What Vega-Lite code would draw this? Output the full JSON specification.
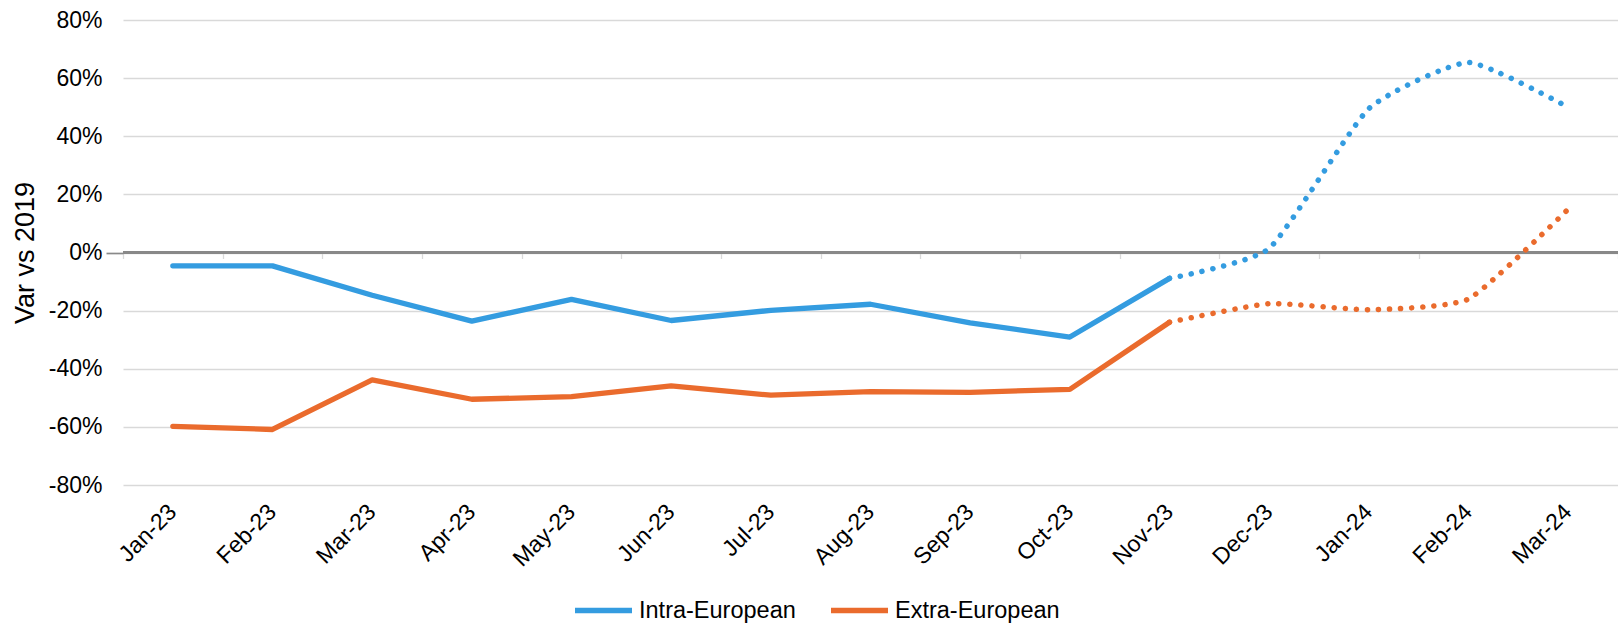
{
  "$schema": "https://vega.github.io/schema/vega-lite/v6.json",
  "width": 1495,
  "height": 465,
  "autosize": {"type": "none"},
  "padding": {"left": 123, "top": 20, "right": 0, "bottom": 139},
  "config": {
    "view": {"stroke": null},
    "font": "Liberation Sans",
    "axis": {"labelColor": "#000000", "titleColor": "#000000", "labelFont": "Liberation Sans", "titleFont": "Liberation Sans", "titleFontWeight": "normal"},
    "legend": {"labelFont": "Liberation Sans", "labelColor": "#000000"}
  },
  "data": {
    "values": [
      {"month": "Jan-23", "series": "Intra-European", "part": "actual", "value": -4.6},
      {"month": "Feb-23", "series": "Intra-European", "part": "actual", "value": -4.6},
      {"month": "Mar-23", "series": "Intra-European", "part": "actual", "value": -14.7},
      {"month": "Apr-23", "series": "Intra-European", "part": "actual", "value": -23.6},
      {"month": "May-23", "series": "Intra-European", "part": "actual", "value": -16.1},
      {"month": "Jun-23", "series": "Intra-European", "part": "actual", "value": -23.4},
      {"month": "Jul-23", "series": "Intra-European", "part": "actual", "value": -19.9},
      {"month": "Aug-23", "series": "Intra-European", "part": "actual", "value": -17.8},
      {"month": "Sep-23", "series": "Intra-European", "part": "actual", "value": -24.2},
      {"month": "Oct-23", "series": "Intra-European", "part": "actual", "value": -29.1},
      {"month": "Nov-23", "series": "Intra-European", "part": "actual", "value": -8.9},
      {"month": "Nov-23", "series": "Intra-European", "part": "forecast", "value": -8.9},
      {"month": "Dec-23", "series": "Intra-European", "part": "forecast", "value": 1.4},
      {"month": "Jan-24", "series": "Intra-European", "part": "forecast", "value": 49.5},
      {"month": "Feb-24", "series": "Intra-European", "part": "forecast", "value": 65.4},
      {"month": "Mar-24", "series": "Intra-European", "part": "forecast", "value": 50.0},
      {"month": "Jan-23", "series": "Extra-European", "part": "actual", "value": -59.8},
      {"month": "Feb-23", "series": "Extra-European", "part": "actual", "value": -60.9},
      {"month": "Mar-23", "series": "Extra-European", "part": "actual", "value": -43.8},
      {"month": "Apr-23", "series": "Extra-European", "part": "actual", "value": -50.5},
      {"month": "May-23", "series": "Extra-European", "part": "actual", "value": -49.6},
      {"month": "Jun-23", "series": "Extra-European", "part": "actual", "value": -45.9},
      {"month": "Jul-23", "series": "Extra-European", "part": "actual", "value": -49.1},
      {"month": "Aug-23", "series": "Extra-European", "part": "actual", "value": -47.9},
      {"month": "Sep-23", "series": "Extra-European", "part": "actual", "value": -48.1},
      {"month": "Oct-23", "series": "Extra-European", "part": "actual", "value": -47.1},
      {"month": "Nov-23", "series": "Extra-European", "part": "actual", "value": -24.0},
      {"month": "Nov-23", "series": "Extra-European", "part": "forecast", "value": -24.0},
      {"month": "Dec-23", "series": "Extra-European", "part": "forecast", "value": -17.6},
      {"month": "Jan-24", "series": "Extra-European", "part": "forecast", "value": -19.7},
      {"month": "Feb-24", "series": "Extra-European", "part": "forecast", "value": -16.0},
      {"month": "Mar-24", "series": "Extra-European", "part": "forecast", "value": 14.9}
    ]
  },
  "resolve": {"axis": {"x": "independent"}},
  "layer": [
    {
      "mark": {"type": "rule", "color": "#898989", "strokeWidth": 1.7},
      "encoding": {"y": {"datum": 0, "type": "quantitative", "scale": {"domain": [-80, 80]}}}
    },
    {
      "transform": [{"filter": "datum.part === 'actual'"}],
      "mark": {"type": "line", "strokeWidth": 5.3, "strokeCap": "round", "strokeJoin": "round"},
      "encoding": {
        "x": {
          "field": "month", "type": "nominal",
          "scale": {"type": "band", "paddingInner": 0, "paddingOuter": 0, "domain": ["Jan-23","Feb-23","Mar-23","Apr-23","May-23","Jun-23","Jul-23","Aug-23","Sep-23","Oct-23","Nov-23","Dec-23","Jan-24","Feb-24","Mar-24"]},
          "axis": {"orient": "bottom", "title": null, "domain": false, "ticks": false, "grid": false, "labelAngle": -45, "labelAlign": "right", "labelBaseline": "middle", "labelFontSize": 23, "labelPadding": 23}
        },
        "y": {
          "field": "value", "type": "quantitative",
          "scale": {"domain": [-80, 80], "nice": false},
          "axis": {
            "title": "Var vs 2019", "titleFontSize": 27, "titleX": -98, "titleY": 232.5, "titleAngle": -90, "titleAlign": "center", "titleBaseline": "middle",
            "values": [-80, -60, -40, -20, 0, 20, 40, 60, 80],
            "labelExpr": "datum.value + '%'",
            "labelFontSize": 23, "labelPadding": 4,
            "domain": false,
            "grid": true, "gridColor": "#d9d9d9", "gridWidth": 1.3,
            "ticks": true, "tickSize": 17, "tickWidth": 1.7,
            "tickColor": {"condition": {"test": "datum.value === 0", "value": "#898989"}, "value": "rgba(0,0,0,0)"}
          }
        },
        "color": {
          "field": "series", "type": "nominal",
          "scale": {"domain": ["Intra-European", "Extra-European"], "range": ["#349CE0", "#EA6B2D"]},
          "legend": {
            "title": null, "orient": "none", "direction": "horizontal", "legendX": 449, "legendY": 559,
            "symbolType": "stroke", "symbolSize": 3249, "symbolStrokeWidth": 5.3, "symbolDash": [],
            "labelFontSize": 23.5, "labelOffset": 4, "labelLimit": 400, "columnPadding": 24
          }
        }
      }
    },
    {
      "transform": [{"filter": "datum.part === 'forecast'"}],
      "mark": {"type": "line", "strokeWidth": 5.5, "strokeCap": "round", "strokeDash": [0.1, 11], "interpolate": "cardinal", "tension": 0.5},
      "encoding": {
        "x": {
          "field": "month", "type": "nominal",
          "axis": {"orient": "bottom", "offset": -232.5, "title": null, "labels": false, "domain": false, "grid": false, "ticks": true, "tickBand": "extent", "tickSize": 6, "tickWidth": 1.3, "tickColor": "#d9d9d9"}
        },
        "y": {"field": "value", "type": "quantitative"},
        "color": {"field": "series", "type": "nominal"}
      }
    }
  ]
}
